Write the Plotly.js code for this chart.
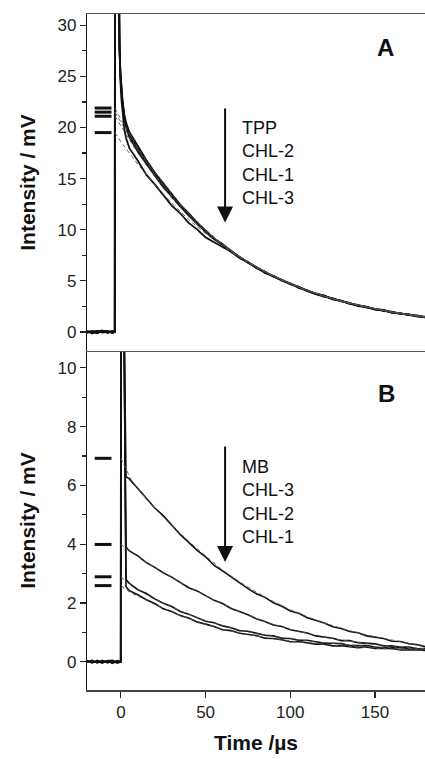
<!DOCTYPE html>
<html>
<head>
<meta charset="utf-8">
<script src="https://cdn.plot.ly/plotly-3.0.1.min.js"></script>
<style>html,body{margin:0;padding:0;background:#fff;}#chart{width:425px;height:759px;}</style>
</head>
<body>
<div id="chart"></div>
<script>
// ---------- Panel A (time axis in µs, intensity in mV) ----------
const tA = [-20,-17,-14,-11,-8,-5,-3.6,-3.5,-1.4,-1.2,-0.8,-0.3,0.3,1,2,3,
  5,10,15,20,25,30,35,40,45,50,55,60,65,70,75,80,85,90,95,100,105,110,115,120,125,130,135,140,145,150,155,160,165,170,175,180];
const aTPP = [0.1,-0.15,0.05,0.15,-0.1,0.05,0.0,40,40,31,28,25.5,23.9,22.6,21.3,20.5,
  19.56,18.12,16.82,15.59,14.54,13.45,12.45,11.62,10.70,9.93,9.12,8.60,7.89,7.36,6.76,6.32,5.78,5.49,5.05,4.67,4.41,4.00,3.77,3.55,3.19,3.03,2.78,2.66,2.38,2.26,2.04,2.00,1.77,1.72,1.50,1.47];
const aCHL2 = [0.0,0.1,-0.1,0.05,0.1,-0.05,0.0,40,40,30.8,27.8,25.3,23.7,22.4,21.1,20.3,
  19.21,17.97,16.58,15.54,14.30,13.33,12.44,11.41,10.67,9.78,9.15,8.46,7.96,7.27,6.81,6.35,5.79,5.47,5.01,4.76,4.34,4.08,3.70,3.54,3.23,3.06,2.75,2.60,2.46,2.19,2.12,1.92,1.85,1.64,1.58,1.42];
const aCHL1 = [-0.1,0.05,0.1,-0.05,0.0,0.1,0.0,40,40,30.6,27.6,25.1,23.5,22.2,20.9,20.1,
  19.03,17.64,16.45,15.29,14.16,13.26,12.27,11.42,10.55,9.84,9.08,8.56,7.85,7.31,6.84,6.24,5.88,5.42,5.10,4.68,4.41,4.01,3.76,3.44,3.30,2.99,2.83,2.55,2.48,2.23,2.13,1.88,1.82,1.65,1.61,1.41];
const aCHL3 = [0.05,0.0,-0.1,0.1,0.05,-0.1,0.0,40,40,30.4,27.2,24.6,22.8,21.3,19.9,19.0,
  17.98,16.75,15.39,14.43,13.36,12.36,11.61,10.67,10.04,9.25,8.77,8.29,7.85,7.24,6.83,6.28,5.91,5.41,5.06,4.74,4.30,4.07,3.72,3.56,3.21,3.01,2.85,2.54,2.44,2.22,2.15,1.92,1.76,1.73,1.55,1.48];

const tFitA = [-3.5,0,5,10,20,30,40,50,60,70,80,90,100,110,120,130,140,150,160,170,180];
const fitA_TPP  = [21.9,20.8,19.4,18.0,15.6,13.5,11.6,10.0,8.6,7.4,6.4,5.5,4.75,4.1,3.5,3.05,2.63,2.27,1.95,1.68,1.45];
const fitA_CHL2 = [21.5,20.5,19.1,17.8,15.4,13.3,11.5,9.9,8.55,7.35,6.35,5.47,4.72,4.07,3.5,3.03,2.61,2.25,1.94,1.67,1.45];
const fitA_CHL1 = [21.1,20.1,18.8,17.5,15.2,13.1,11.3,9.8,8.5,7.3,6.3,5.45,4.7,4.05,3.5,3.0,2.6,2.25,1.94,1.68,1.45];
const fitA_CHL3 = [19.5,18.6,17.5,16.4,14.4,12.6,11.0,9.6,8.4,7.3,6.3,5.45,4.7,4.05,3.5,3.0,2.6,2.25,1.94,1.68,1.45];
const initA = [21.9,21.5,21.1,19.5];
const labelsA = ["TPP","CHL-2","CHL-1","CHL-3"];

// ---------- Panel B ----------
const tB = [-20,-17,-14,-11,-8,-5,-2,-0.1,0,1.8,3,
  5,10,15,20,25,30,35,40,45,50,55,60,65,70,75,80,85,90,95,100,105,110,115,120,125,130,135,140,145,150,155,160,165,170,175,180];
const bMB = [0.03,-0.04,0.05,-0.02,0.04,-0.05,0.03,0.0,12,12,6.3,
  6.22,5.89,5.56,5.23,4.97,4.65,4.33,4.06,3.79,3.57,3.28,3.09,2.88,2.70,2.49,2.31,2.19,2.01,1.89,1.73,1.65,1.50,1.40,1.32,1.19,1.13,1.03,0.99,0.88,0.84,0.79,0.70,0.69,0.61,0.58,0.51];
const bCHL3 = [0.0,0.04,-0.03,0.05,-0.04,0.02,-0.05,0.0,12,12,3.9,
  3.77,3.60,3.37,3.21,3.03,2.88,2.69,2.52,2.41,2.24,2.09,1.98,1.81,1.71,1.60,1.46,1.37,1.25,1.20,1.09,1.04,0.98,0.88,0.84,0.80,0.72,0.72,0.65,0.62,0.61,0.54,0.54,0.49,0.50,0.44,0.45];
const bCHL2 = [0.04,-0.03,0.02,-0.05,0.03,0.05,-0.02,0.0,12,12,2.8,
  2.67,2.45,2.32,2.14,1.99,1.88,1.71,1.62,1.50,1.38,1.33,1.22,1.16,1.06,1.04,0.96,0.90,0.88,0.80,0.79,0.73,0.73,0.68,0.63,0.63,0.62,0.55,0.55,0.55,0.50,0.47,0.48,0.48,0.43,0.43,0.40];
const bCHL1 = [-0.02,0.05,-0.04,0.03,0.0,-0.03,0.04,0.0,12,12,2.55,
  2.42,2.28,2.11,1.98,1.80,1.71,1.57,1.49,1.35,1.28,1.20,1.09,1.06,0.97,0.92,0.89,0.80,0.79,0.75,0.68,0.69,0.64,0.60,0.60,0.54,0.55,0.52,0.48,0.50,0.45,0.46,0.45,0.40,0.41,0.41,0.38];

const tFitB = [0,3,6,10,20,30,40,50,60,70,80,90,100,110,120,130,140,150,160,170,180];
const fitB_MB   = [6.92,6.55,6.2,5.88,5.22,4.64,4.1,3.6,3.12,2.72,2.37,2.05,1.77,1.53,1.32,1.14,0.98,0.85,0.73,0.63,0.54];
const fitB_CHL3 = [3.99,3.85,3.72,3.58,3.2,2.86,2.54,2.24,1.96,1.7,1.47,1.27,1.1,0.96,0.84,0.74,0.66,0.59,0.53,0.48,0.44];
const fitB_CHL2 = [2.89,2.72,2.58,2.45,2.12,1.86,1.61,1.4,1.23,1.08,0.96,0.86,0.78,0.71,0.65,0.6,0.55,0.51,0.47,0.44,0.42];
const fitB_CHL1 = [2.59,2.45,2.34,2.24,1.95,1.7,1.47,1.28,1.11,0.98,0.87,0.78,0.7,0.64,0.58,0.54,0.5,0.46,0.43,0.41,0.39];
const initB = [6.92,3.99,2.89,2.59];
const labelsB = ["MB","CHL-3","CHL-2","CHL-1"];

const xTicks = [0,50,100,150];
const yTicksA = [0,5,10,15,20,25,30];
const yTicksB = [0,2,4,6,8,10];

// ---------- build ----------
const FONT = "Liberation Sans, Arial, Helvetica, sans-serif";
const traces = [];
function trace(x, y, ax, w) {
  return {x: x, y: y, xaxis: ax.x, yaxis: ax.y, mode: "lines", type: "scatter",
    line: {color: "#111", width: w}, hoverinfo: "skip", showlegend: false};
}
function fit(x, y, ax) {
  return {x: x, y: y, xaxis: ax.x, yaxis: ax.y, mode: "lines", type: "scatter",
    line: {color: "#555", width: 0.9, dash: "4px,3px"}, hoverinfo: "skip", showlegend: false};
}
const axA = {x: "x2", y: "y"};
const axB = {x: "x", y: "y2"};
[aTPP, aCHL2, aCHL1, aCHL3].forEach(v => traces.push(trace(tA, v, axA, 1.8)));
[fitA_TPP, fitA_CHL2, fitA_CHL1, fitA_CHL3].forEach(v => traces.push(fit(tFitA, v, axA)));
[bMB, bCHL3, bCHL2, bCHL1].forEach(v => traces.push(trace(tB, v, axB, 1.6)));
[fitB_MB, fitB_CHL3, fitB_CHL2, fitB_CHL1].forEach(v => traces.push(fit(tFitB, v, axB)));
// initial-amplitude markers
const markX = -10.5;
const markStyle = {symbol: "line-ew-open", size: 12, color: "#111", line: {color: "#111", width: 3}};
traces.push({x: initA.map(() => markX), y: initA, xaxis: "x2", yaxis: "y", mode: "markers", type: "scatter",
  marker: markStyle, hoverinfo: "skip", showlegend: false});
traces.push({x: initB.map(() => markX), y: initB, xaxis: "x", yaxis: "y2", mode: "markers", type: "scatter",
  marker: markStyle, hoverinfo: "skip", showlegend: false});

const split = 0.5015;
const tickFont = {family: FONT, size: 17, color: "#222"};
const titleFont = {family: FONT, size: 21, color: "#111", weight: "bold"};

const layout = {
  width: 425, height: 759,
  margin: {l: 87, r: 0, t: 14, b: 69},
  paper_bgcolor: "#fff", plot_bgcolor: "#fff",
  showlegend: false,
  xaxis: {domain: [0, 1], anchor: "y2", range: [-20, 179.5], tickvals: xTicks, ticks: "outside", ticklen: 6,
    tickwidth: 1.2, tickcolor: "#222", showline: true, linecolor: "#444", linewidth: 1.5, showgrid: false, zeroline: false,
    tickfont: tickFont, title: {text: "Time /µs", font: titleFont, standoff: 14}},
  xaxis2: {domain: [0, 1], anchor: "y", matches: "x", showline: true, mirror: true, linecolor: "#555", linewidth: 1.5,
    ticks: "", showticklabels: false, showgrid: false, zeroline: false},
  yaxis: {domain: [split, 1], anchor: "x2", range: [-1.86, 31.1], tickvals: yTicksA, ticks: "outside", ticklen: 6,
    tickwidth: 1.2, tickcolor: "#222", minor: {dtick: 2.5, ticks: "outside", ticklen: 4, tickcolor: "#222", tickwidth: 1.2, showgrid: false},
    showline: true, linecolor: "#111", linewidth: 1.2, showgrid: false, zeroline: false, tickfont: tickFont,
    title: {text: "Intensity / mV", font: titleFont, standoff: 16}},
  yaxis2: {domain: [0, split], anchor: "x", range: [-0.96, 10.57], tickvals: yTicksB, ticks: "outside", ticklen: 6,
    tickwidth: 1.2, tickcolor: "#222", minor: {dtick: 1, ticks: "outside", ticklen: 4, tickcolor: "#222", tickwidth: 1.2, showgrid: false},
    showline: true, linecolor: "#111", linewidth: 1.2, showgrid: false, zeroline: false, tickfont: tickFont,
    title: {text: "Intensity / mV", font: titleFont, standoff: 16}},
  annotations: [
    {xref: "x2", yref: "y", x: 156.2, y: 27.8, text: "<b>A</b>", showarrow: false, font: {family: FONT, size: 24, color: "#111"}},
    {xref: "x", yref: "y2", x: 156.7, y: 9.14, text: "<b>B</b>", showarrow: false, font: {family: FONT, size: 24, color: "#111"}},
    {xref: "x2", yref: "y", x: 70.3, y: 16.5, xanchor: "left", yanchor: "middle", align: "left", showarrow: false,
      text: labelsA.join("<br>"), font: {family: FONT, size: 18, color: "#111"}},
    {xref: "x", yref: "y2", x: 70.3, y: 5.44, xanchor: "left", yanchor: "middle", align: "left", showarrow: false,
      text: labelsB.join("<br>"), font: {family: FONT, size: 18, color: "#111"}},
    {xref: "x2", yref: "y", axref: "x2", ayref: "y", x: 61.5, y: 10.7, ax: 61.5, ay: 22.0, text: "", showarrow: true,
      arrowhead: 2, arrowsize: 1.6, arrowwidth: 2, arrowcolor: "#111"},
    {xref: "x", yref: "y2", axref: "x", ayref: "y2", x: 61.5, y: 3.39, ax: 61.5, ay: 7.37, text: "", showarrow: true,
      arrowhead: 2, arrowsize: 1.6, arrowwidth: 2, arrowcolor: "#111"}
  ]
};

Plotly.newPlot("chart", traces, layout, {staticPlot: true, displayModeBar: false});
</script>
</body>
</html>
